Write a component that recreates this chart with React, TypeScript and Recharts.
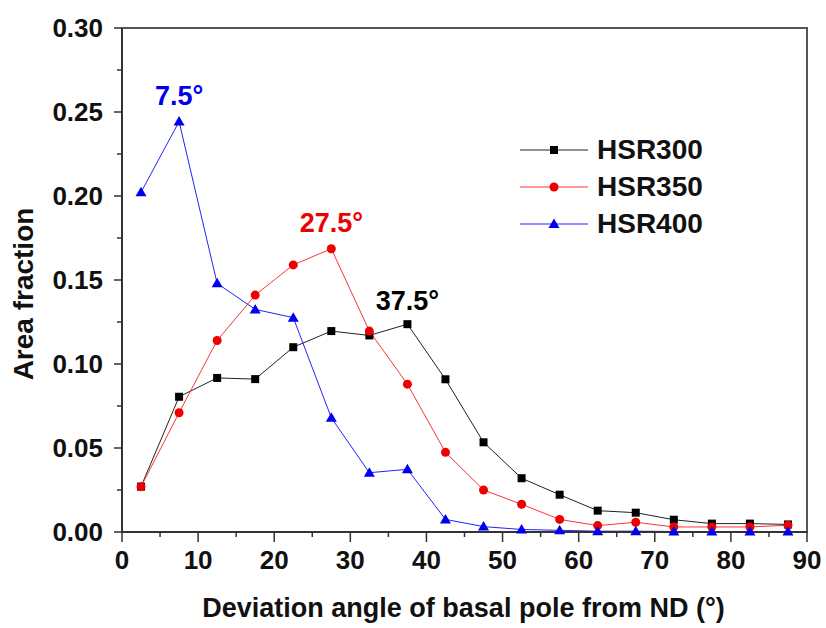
import { LineChart, Line, XAxis, YAxis, ReferenceDot, ReferenceArea, Label } from 'recharts';

// deviation angle bin centres (deg)
const angles = [2.5, 7.5, 12.5, 17.5, 22.5, 27.5, 32.5, 37.5, 42.5, 47.5, 52.5, 57.5, 62.5, 67.5, 72.5, 77.5, 82.5, 87.5];

const hsr300 = [0.027, 0.0805, 0.0917, 0.091, 0.11, 0.1196, 0.117, 0.1237, 0.0909, 0.0534, 0.032, 0.0222, 0.0127, 0.0115, 0.0073, 0.005, 0.005, 0.0045];
const hsr350 = [0.027, 0.071, 0.114, 0.141, 0.159, 0.1686, 0.1196, 0.088, 0.0474, 0.025, 0.0165, 0.0075, 0.0038, 0.0058, 0.003, 0.003, 0.003, 0.004];
const hsr400 = [0.2022, 0.2443, 0.148, 0.1325, 0.1276, 0.068, 0.0353, 0.0373, 0.0075, 0.0032, 0.0015, 0.001, 0.0005, 0.0005, 0.0003, 0.0003, 0.0003, 0.0003];

const xTicks = [0, 5, 10, 15, 20, 25, 30, 35, 40, 45, 50, 55, 60, 65, 70, 75, 80, 85, 90];
const yTicks = [0, 0.025, 0.05, 0.075, 0.1, 0.125, 0.15, 0.175, 0.2, 0.225, 0.25, 0.275, 0.3];

const FONT = '"Liberation Sans", Arial, sans-serif';
const AXIS = '#333';

const data = angles.map((a, i) => ({ angle: a, hsr300: hsr300[i], hsr350: hsr350[i], hsr400: hsr400[i] }));

type Shape = 'square' | 'circle' | 'triangle';

const series: { key: string; name: string; values: number[]; color: string; line: string; shape: Shape }[] = [
  { key: 'hsr300', name: 'HSR300', values: hsr300, color: '#000000', line: '#222222', shape: 'square' },
  { key: 'hsr350', name: 'HSR350', values: hsr350, color: '#ee0000', line: '#ff3333', shape: 'circle' },
  { key: 'hsr400', name: 'HSR400', values: hsr400, color: '#0000ee', line: '#2222ff', shape: 'triangle' },
];

function marker(shape: Shape, cx: number, cy: number, color: string, key?: string) {
  if (shape === 'square') return <rect key={key} x={cx - 4} y={cy - 4} width={8} height={8} fill={color} />;
  if (shape === 'circle') return <circle key={key} cx={cx} cy={cy} r={4.5} fill={color} />;
  return <path key={key} d={`M${cx},${cy - 5.5} L${cx + 5.5},${cy + 4} L${cx - 5.5},${cy + 4} Z`} fill={color} />;
}

function YTick(props: any) {
  const { x, y, payload } = props;
  const major = Math.round(payload.value * 1000) % 50 === 0;
  return (
    <g>
      <line x1={x - (major ? 8 : 5)} x2={x} y1={y} y2={y} stroke={AXIS} strokeWidth={1.5} />
      {major && (
        <text x={x - 19} y={y + 9} textAnchor="end" fontFamily={FONT} fontWeight="bold" fontSize={26} fill="#111">
          {payload.value.toFixed(2)}
        </text>
      )}
    </g>
  );
}

function XTick(props: any) {
  const { x, y, payload } = props;
  const major = payload.value % 10 === 0;
  return (
    <g>
      <line x1={x} x2={x} y1={y} y2={y + (major ? 10 : 5)} stroke={AXIS} strokeWidth={1.5} />
      {major && (
        <text x={x} y={y + 37} textAnchor="middle" fontFamily={FONT} fontWeight="bold" fontSize={26} fill="#111">
          {payload.value}
        </text>
      )}
    </g>
  );
}

function LegendBox() {
  return (
    <div style={{ position: 'absolute', left: 520, top: 131, fontFamily: FONT, fontWeight: 'bold', fontSize: 28, color: '#111' }}>
      {series.map((s) => (
        <div key={s.key} style={{ display: 'flex', alignItems: 'center', height: 37 }}>
          <svg width={68} height={20} style={{ marginRight: 9 }}>
            <line x1={0} x2={68} y1={10} y2={10} stroke={s.line} strokeWidth={1} />
            {marker(s.shape, 34, 10, s.color)}
          </svg>
          <span style={{ lineHeight: '37px' }}>{s.name}</span>
        </div>
      ))}
    </div>
  );
}

export default function App() {
  return (
    <div style={{ position: 'absolute', left: 0, top: 0, width: 826, height: 628, background: '#fff' }}>
      <LineChart width={826} height={628} data={data} margin={{ top: 28, right: 19, bottom: 95, left: 121 }}>
        <XAxis
          dataKey="angle"
          type="number"
          domain={[0, 90]}
          ticks={xTicks}
          interval={0}
          height={1}
          tickSize={0}
          tickMargin={0}
          tickLine={false}
          axisLine={{ stroke: AXIS, strokeWidth: 2 }}
          tick={(p: any) => <XTick {...p} />}
        >
          <Label
            content={({ viewBox }: any) => (
              <text x={viewBox.x + viewBox.width / 2 - 1} y={617} textAnchor="middle" fontFamily={FONT} fontWeight="bold" fontSize={27} fill="#111">
                Deviation angle of basal pole from ND (°)
              </text>
            )}
          />
        </XAxis>
        <YAxis
          type="number"
          domain={[0, 0.3]}
          ticks={yTicks}
          interval={0}
          width={1}
          tickSize={0}
          tickMargin={0}
          tickLine={false}
          axisLine={{ stroke: AXIS, strokeWidth: 2 }}
          tick={(p: any) => <YTick {...p} />}
        >
          <Label
            content={({ viewBox }: any) => {
              const cx = 33;
              const cy = viewBox.y + viewBox.height / 2 + 14;
              return (
                <text x={cx} y={cy} transform={`rotate(-90 ${cx} ${cy})`} textAnchor="middle" fontFamily={FONT} fontWeight="bold" fontSize={28} fill="#111">
                  Area fraction
                </text>
              );
            }}
          />
        </YAxis>
        <ReferenceArea x1={0} x2={90} y1={0} y2={0.3} fill="none" stroke="#555" strokeWidth={2} ifOverflow="visible" />
        {series.map((s) => (
          <Line
            key={s.key}
            dataKey={s.key}
            name={s.name}
            type="linear"
            stroke={s.line}
            strokeWidth={1}
            isAnimationActive={false}
            dot={(p: any) => marker(s.shape, p.cx, p.cy, s.color, `${s.key}-${p.index}`)}
            activeDot={false}
          />
        ))}
        {series.map((s) => {
          const i = s.values.indexOf(Math.max(...s.values));
          return (
            <ReferenceDot
              key={`peak-${s.key}`}
              x={angles[i]}
              y={s.values[i]}
              r={0}
              fill="none"
              stroke="none"
              label={{
                value: `${angles[i]}°`,
                position: 'top',
                offset: s.key === 'hsr300' ? 14 : 17,
                fill: s.color,
                fontSize: 27,
                fontWeight: 'bold',
                fontFamily: FONT,
              }}
            />
          );
        })}
      </LineChart>
      <LegendBox />
    </div>
  );
}
